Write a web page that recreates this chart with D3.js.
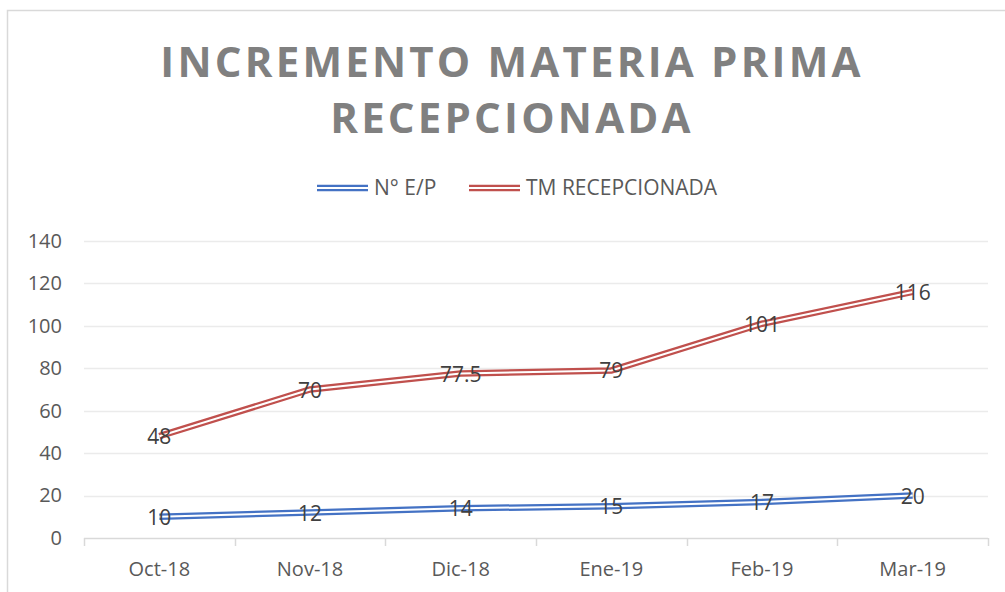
<!DOCTYPE html>
<html>
<head>
<meta charset="utf-8">
<script src="https://cdn.jsdelivr.net/npm/d3@7"></script>
<style>
  body { margin: 0; background: #fff; }
  text { font-family: "Open Sans", "Liberation Sans", sans-serif; }
</style>
</head>
<body>
<script>
const WIDTH = 1005
const HEIGHT = 592

const MONTHS = ['Oct-18', 'Nov-18', 'Dic-18', 'Ene-19', 'Feb-19', 'Mar-19']
const EP = [10, 12, 14, 15, 17, 20]
const TM = [48, 70, 77.5, 79, 101, 116]
const Y_TICKS = [0, 20, 40, 60, 80, 100, 120, 140]

const SERIES = [
    { name: 'N° E/P', values: EP, color: '#4472C4' },
    { name: 'TM RECEPCIONADA', values: TM, color: '#C0504D' }
]

const MARGIN = { left: 84, right: 17, top: 241, bottom: 54 }

const svg = d3.select('body')
    .append('svg')
    .attr('width', WIDTH)
    .attr('height', HEIGHT)

// chart frame
svg.append('path')
    .attr('d', `M7.5,${HEIGHT} V10.5 H${WIDTH}`)
    .attr('fill', 'none')
    .attr('stroke', '#d9d9d9')
    .attr('stroke-width', 1.5)

const x = d3.scaleBand()
    .domain(MONTHS)
    .range([MARGIN.left, WIDTH - MARGIN.right])

const y = d3.scaleLinear()
    .domain([0, 140])
    .range([HEIGHT - MARGIN.bottom, MARGIN.top])

// title
svg.append('g')
    .selectAll('text')
    .data(['INCREMENTO MATERIA PRIMA', 'RECEPCIONADA'])
    .enter()
    .append('text')
    .text(d => d)
    .attr('x', 512)
    .attr('y', (d, i) => 77 + i * 56)
    .attr('text-anchor', 'middle')
    .attr('font-size', 42)
    .attr('font-weight', 'bold')
    .attr('letter-spacing', 3.2)
    .attr('fill', '#808080')

// gridlines
svg.append('g')
    .selectAll('line')
    .data(Y_TICKS)
    .enter()
    .append('line')
    .attr('x1', MARGIN.left)
    .attr('x2', WIDTH - MARGIN.right)
    .attr('y1', d => Math.round(y(d)) + 0.5)
    .attr('y2', d => Math.round(y(d)) + 0.5)
    .attr('stroke', d => d === 0 ? '#d9d9d9' : '#ebebeb')
    .attr('stroke-width', 1.5)

// y axis
const yAxis = d3.axisLeft(y)
    .tickValues(Y_TICKS)
    .tickSize(0)
    .tickPadding(0)

const gY = svg.append('g')
    .attr('transform', `translate(${MARGIN.left - 22}, 0)`)
    .call(yAxis)
gY.select('.domain').remove()
gY.selectAll('text')
    .attr('font-size', 20)
    .attr('fill', '#595959')
    .attr('font-family', '"Open Sans", sans-serif')

// x axis
const xAxis = d3.axisBottom(x)
    .tickSize(0)
    .tickPadding(24)

const gX = svg.append('g')
    .attr('transform', `translate(0, ${y(0)})`)
    .call(xAxis)
gX.select('.domain').remove()
gX.selectAll('text')
    .attr('font-size', 20)
    .attr('fill', '#595959')
    .attr('font-family', '"Open Sans", sans-serif')

// category separators below the axis
svg.append('g')
    .selectAll('line')
    .data(d3.range(MONTHS.length + 1))
    .enter()
    .append('line')
    .attr('x1', i => Math.round(MARGIN.left + i * x.bandwidth()) + 0.5)
    .attr('x2', i => Math.round(MARGIN.left + i * x.bandwidth()) + 0.5)
    .attr('y1', y(0))
    .attr('y2', y(0) + 8)
    .attr('stroke', '#d9d9d9')
    .attr('stroke-width', 1.5)

const line = d3.line()
    .x((d, i) => x(MONTHS[i]) + x.bandwidth() / 2)
    .y(d => y(d))

// double lines: thick colour stroke with a white core
SERIES.forEach(s => {
    svg.append('path')
        .datum(s.values)
        .attr('d', line)
        .attr('fill', 'none')
        .attr('stroke', s.color)
        .attr('stroke-width', 6.5)
    svg.append('path')
        .datum(s.values)
        .attr('d', line)
        .attr('fill', 'none')
        .attr('stroke', '#fff')
        .attr('stroke-width', 2)
})

// data labels
SERIES.forEach(s => {
    svg.append('g')
        .selectAll('text')
        .data(s.values)
        .enter()
        .append('text')
        .text(d => d)
        .attr('x', (d, i) => x(MONTHS[i]) + x.bandwidth() / 2)
        .attr('y', d => y(d) + 8)
        .attr('text-anchor', 'middle')
        .attr('font-size', 21)
        .attr('fill', '#404040')
})

// legend
const legend = svg.append('g')
    .selectAll('g')
    .data(SERIES)
    .enter()
    .append('g')
    .attr('transform', (d, i) => `translate(${i === 0 ? 317 : 469}, 188)`)

legend.append('line')
    .attr('x1', 0).attr('x2', 51)
    .attr('stroke', d => d.color)
    .attr('stroke-width', 6.5)
legend.append('line')
    .attr('x1', 0).attr('x2', 51)
    .attr('stroke', '#fff')
    .attr('stroke-width', 2)
legend.append('text')
    .text(d => d.name)
    .attr('x', 57)
    .attr('y', 7)
    .attr('font-size', 21)
    .attr('fill', '#595959')
</script>
</body>
</html>
